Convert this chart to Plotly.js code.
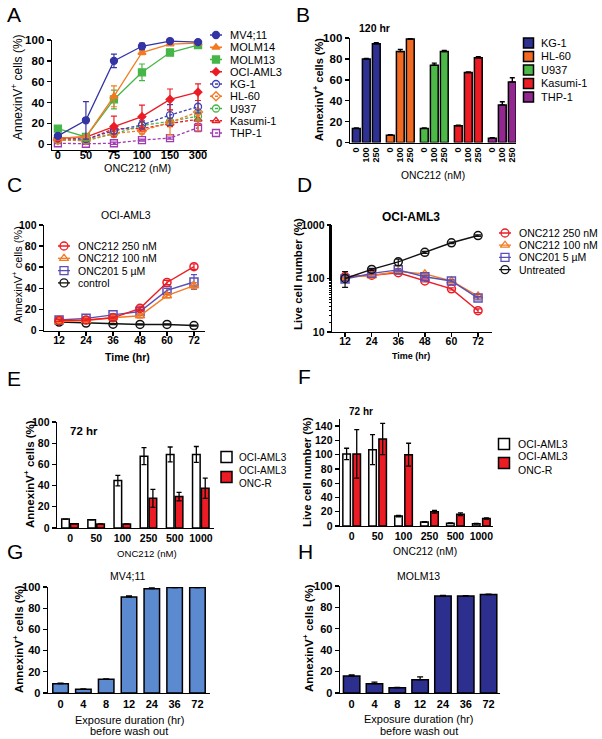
<!DOCTYPE html>
<html><head><meta charset="utf-8">
<script src="https://cdn.plot.ly/plotly-3.0.1.min.js"></script>
<style>html,body{margin:0;padding:0;background:#fff}#chart{width:602px;height:739px}</style>
</head><body><div id="chart"></div>
<script>
// ================= DATA =================
// Panel A: AnnexinV+ cells (%) vs ONC212 (nM)
const aDoses = ['0','50','75','100','150','300'];
const aLines = ['MV4;11','MOLM14','MOLM13','OCI-AML3','KG-1','HL-60','U937','Kasumi-1','THP-1'];
const aMV411    = [8, 23, 80, 94, 99, 98];
const aMV411Err = [1, 18, 6.5, 3, 1, 1];
const aMOLM14    = [6, 7, 46, 88, 96, 97];
const aMOLM14Err = [1, 2, 10, 2, 1, 1];
const aMOLM13    = [15, 7, 43, 69, 88, 95];
const aMOLM13Err = [1, 2, 9, 8, 3, 1.5];
const aOCIAML3    = [6, 7, 17, 26.5, 43, 50];
const aOCIAML3Err = [2, 2, 10, 11, 10, 8];
const aKG1    = [6, 5, 13, 18.5, 28, 36];
const aKG1Err = [1, 1, 3, 4, 10, 6];
const aHL60    = [4, 4, 10.5, 13, 21, 31];
const aHL60Err = [1, 1, 2, 3, 12, 18];
const aU937    = [4, 3.5, 10, 18, 22, 27];
const aU937Err = [1, 1, 2, 3, 3, 4];
const aKasumi1    = [5, 4, 15, 15, 20, 24];
const aKasumi1Err = [1, 1, 3, 3, 3, 6];
const aTHP1    = [1, 0.5, 1, 4, 6, 16];
const aTHP1Err = [0.5, 0.5, 1, 1, 1, 4];

// Panel B: 120 hr
const bLines = ['KG-1','HL-60','U937','Kasumi-1','THP-1'];
const bConc = ['0','100','250'];
const bKG1 = [13.5, 80, 94.5],     bKG1Err = [0.5, 0.5, 1];
const bHL60 = [7, 87, 99],         bHL60Err = [0.5, 2, 0.5];
const bU937 = [13.5, 74, 87],      bU937Err = [0.5, 2, 1];
const bKasumi1 = [16, 67, 81],     bKasumi1Err = [0.5, 0.5, 1];
const bTHP1 = [4, 36, 58],         bTHP1Err = [0.5, 3, 4];

// Panel C: OCI-AML3 AnnexinV+ over time
const cTime = [12, 24, 36, 48, 60, 72];
const cNames = ['ONC212 250 nM','ONC212 100 nM','ONC201 5 \u00b5M','control'];
const c250 = [9.5, 10, 12, 21, 45.5, 60.5],  c250Err = [1, 1, 1, 2, 2, 2.5];
const c100 = [8.5, 9.5, 12, 14, 33, 42.5],   c100Err = [1, 1, 1, 2, 2, 3];
const c201 = [10, 11.5, 14.8, 18, 38, 46],   c201Err = [1, 1, 1, 2, 2, 7];
const cCtrl = [8, 7, 6, 5.7, 5.7, 4.7],      cCtrlErr = [0.5, 0.5, 0.5, 0.5, 0.5, 0.5];

// Panel D: OCI-AML3 live cell number (%), log scale
const dTime = [12, 24, 36, 48, 60, 72];
const dNames = ['ONC212 250 nM','ONC212 100 nM','ONC201 5 \u00b5M','Untreated'];
const d250 = [108, 115, 128, 90, 64, 25],    d250Err = [10, 5, 8, 4, 3, 2];
const d100 = [105, 113, 135, 122, 90, 47],   d100Err = [8, 5, 8, 5, 4, 3];
const d201 = [98, 125, 145, 108, 90, 43],    d201Err = [8, 5, 8, 6, 4, 3];
const dUntr = [100, 148, 205, 308, 465, 635];
const dUntrErrPlus  = [34, 6, 25, 12, 15, 20];
const dUntrErrMinus = [32, 6, 30, 12, 15, 20];

// Panel E: 72 hr AnnexinV+
const eDoses = ['0','50','100','250','500','1000'];
const eNames = ['OCI-AML3','OCI-AML3<br>ONC-R'];
const eParental = [8.4, 7.8, 44.7, 67.8, 69.4, 69.4], eParentalErr = [0, 0, 5, 8, 7, 7.5];
const eResistant = [4, 3.8, 3.8, 28, 29.7, 37.5],     eResistantErr = [0, 0, 0, 8.5, 4, 9.5];
const eSig = ['', '', '***', '**', '**', '**'];

// Panel F: 72 hr live cell number
const fDoses = ['0','50','100','250','500','1000'];
const fParental = [101, 107, 14, 5.7, 4, 3.3],       fParentalErr = [8, 21, 1, 0.5, 0.5, 0.5];
const fResistant = [101, 122, 100, 20, 16.5, 10.5],  fResistantErr = [34, 22, 16, 2, 2, 1];
const fSig = ['', '', '***', '***', '**', '***'];

// Panels G/H: exposure duration before wash out
const gHours = ['0','4','8','12','24','36','72'];
const gMV411 = [8.8, 3.5, 13, 90.6, 98.4, 99.5, 99.5], gMV411Err = [0.5, 0.3, 0.3, 1, 0.7, 0.3, 0.3];
const hMOLM13 = [15.9, 8.7, 5, 12.5, 90.7, 90.7, 92], hMOLM13Err = [1, 1.5, 0.3, 2.5, 0.5, 0.3, 0.5];

// ================= HELPERS =================
const F = '"Liberation Sans", Arial, Helvetica, sans-serif';
const W = 602, H = 739;
const X = p => p / W;
const Y = p => 1 - p / H;
const xdom = (a, b) => [a / W, b / W];
const ydom = (t, b) => [1 - b / H, 1 - t / H];
function axis(extra) {
  return Object.assign({showline:true, linecolor:'#000', linewidth:1.4, ticks:'outside', ticklen:4,
    tickwidth:1.4, tickcolor:'#000', showgrid:false, zeroline:false, fixedrange:true,
    tickfont:{family:F, size:10.5, color:'#000', weight:'bold'}}, extra);
}
const hiddenAxis = {visible:false, showticklabels:false, ticks:'', showgrid:false, zeroline:false, showline:false, fixedrange:true};
const traces = [];
const annotations = [];
const layout = {width:W, height:H, margin:{l:0,r:0,t:0,b:0}, paper_bgcolor:'#fff', plot_bgcolor:'rgba(0,0,0,0)',
  showlegend:false, barmode:'overlay', font:{family:F, color:'#000'}};
function txt(x, y, text, size, opts) {
  annotations.push(Object.assign({xref:'paper', yref:'paper', x:X(x), y:Y(y), text:text, showarrow:false,
    xanchor:'center', yanchor:'middle', font:{family:F, size:size, color:'#000'}}, opts || {}));
}
function addLegend(id, names, styles, kind, g) {
  const n = names.length;
  layout['xaxis' + id] = Object.assign({domain:xdom(g.x0, g.x1), range:[0, 1], anchor:'y' + id}, hiddenAxis);
  layout['yaxis' + id] = Object.assign({domain:ydom(g.y0 - g.dy / 2, g.y0 + (n - 0.5) * g.dy), range:[n - 0.5, -0.5],
    anchor:'x' + id}, hiddenAxis);
  names.forEach((nm, i) => {
    const s = styles[i];
    if (kind === 'line') {
      traces.push({type:'scatter', mode:'lines', x:[0, 1], y:[i, i], xaxis:'x' + id, yaxis:'y' + id,
        line:{color:s.c, width:1.3, dash:s.dash || 'solid'}, hoverinfo:'skip', cliponaxis:false});
      traces.push({type:'scatter', mode:'markers', x:[0.5], y:[i], xaxis:'x' + id, yaxis:'y' + id,
        marker:{symbol:s.sym, size:s.size || 7, color:s.c, line:{color:s.c, width:1.3}}, hoverinfo:'skip', cliponaxis:false});
    } else {
      traces.push({type:'scatter', mode:'markers', x:[0.5], y:[i], xaxis:'x' + id, yaxis:'y' + id,
        marker:{symbol:'square', size:g.size || 10, color:s.c, line:{color:'#000', width:1.5}}, hoverinfo:'skip', cliponaxis:false});
    }
    annotations.push({xref:'paper', x:X(g.tx), xanchor:'left', align:'left', yref:'y' + id, y:i, yanchor:'middle', text:nm,
      showarrow:false, font:{family:F, size:g.fs, color:'#000'}});
  });
}

// ================= PANEL A =================
const aSeries = [aMV411, aMOLM14, aMOLM13, aOCIAML3, aKG1, aHL60, aU937, aKasumi1, aTHP1];
const aErrs = [aMV411Err, aMOLM14Err, aMOLM13Err, aOCIAML3Err, aKG1Err, aHL60Err, aU937Err, aKasumi1Err, aTHP1Err];
const aStyle = [
  {c:'#3434a4', sym:'circle', dash:'solid', size:7},
  {c:'#f47a22', sym:'triangle-up', dash:'solid', size:7},
  {c:'#46b649', sym:'square', dash:'solid', size:7},
  {c:'#ec1c24', sym:'diamond', dash:'solid', size:6},
  {c:'#4040b4', sym:'circle-open', dash:'3px,2px', size:7},
  {c:'#f47a22', sym:'diamond-open', dash:'3px,2px', size:7},
  {c:'#46b649', sym:'circle-open', dash:'3px,2px', size:7},
  {c:'#ec1c24', sym:'triangle-up-open', dash:'3px,2px', size:7},
  {c:'#a03cb0', sym:'square-open', dash:'3px,2px', size:7}
];
for (let i = aSeries.length - 1; i >= 0; i--) {
  const s = aStyle[i];
  traces.push({type:'scatter', mode:'lines+markers', name:aLines[i], x:aDoses, y:aSeries[i], xaxis:'x', yaxis:'y',
    line:{color:s.c, width:1.3, dash:s.dash}, marker:{symbol:s.sym, size:s.size, color:s.c, line:{color:s.c, width:1.3}},
    error_y:{type:'data', array:aErrs[i], color:s.c, thickness:1.2, width:3}, cliponaxis:false});
}
layout.xaxis = axis({domain:xdom(52, 207), anchor:'y', type:'category', range:[-0.21, 5.32], ticklen:2, ticklabelstandoff:-7,
  tickfont:{family:F, size:11, color:'#000', weight:'bold'}});
layout.yaxis = axis({domain:ydom(40, 149.5), anchor:'x', range:[-5, 100], tickvals:[0, 20, 40, 60, 80, 100],
  tickfont:{family:F, size:11.5, color:'#000', weight:'bold'}});
addLegend(9, aLines, aStyle, 'line', {x0:210, x1:222, y0:35, dy:12.25, tx:228, fs:11});

// ================= PANEL B =================
const bSeries = [bKG1, bHL60, bU937, bKasumi1, bTHP1];
const bErrs = [bKG1Err, bHL60Err, bU937Err, bKasumi1Err, bTHP1Err];
const bColors = [{c:'#2e3192'}, {c:'#f26a21'}, {c:'#4cb848'}, {c:'#ed1c24'}, {c:'#92278f'}];
const bStride = 3.4;
const bTickVals = [], bTickText = [];
bSeries.forEach((vals, g) => {
  const xs = bConc.map((c, j) => g * bStride + j);
  xs.forEach((x, j) => { bTickVals.push(x); bTickText.push(bConc[j]); });
  traces.push({type:'bar', name:bLines[g], x:xs, y:vals, xaxis:'x2', yaxis:'y2', width:0.78, offset:-0.39,
    marker:{color:bColors[g].c, line:{color:'#000', width:1.5}},
    error_y:{type:'data', symmetric:false, array:bErrs[g], arrayminus:vals.map(() => 0), color:'#000', thickness:1.4, width:2.5}});
});
layout.xaxis2 = axis({domain:xdom(350, 516), anchor:'y2', range:[-0.63, 15.97], tickvals:bTickVals, ticktext:bTickText,
  tickangle:-90, ticks:'', tickfont:{family:F, size:9, color:'#000', weight:'bold'}});
layout.yaxis2 = axis({domain:ydom(38, 142.5), anchor:'x2', range:[0, 100], tickvals:[0, 20, 40, 60, 80, 100],
  tickfont:{family:F, size:11.5, color:'#000', weight:'bold'}});
addLegend(10, bLines, bColors, 'box', {x0:522, x1:535, y0:43, dy:13.5, tx:539, fs:11, size:10});

// ================= PANEL C =================
const cSeries = [c250, c100, c201, cCtrl];
const cErrs = [c250Err, c100Err, c201Err, cCtrlErr];
const cStyle = [
  {c:'#ec1c24', sym:'circle-open', size:8},
  {c:'#f47a22', sym:'triangle-up-open', size:8},
  {c:'#5b4fb5', sym:'square-open', size:8},
  {c:'#111111', sym:'circle-open', size:8}
];
for (let i = cSeries.length - 1; i >= 0; i--) {
  const s = cStyle[i];
  traces.push({type:'scatter', mode:'lines+markers', name:cNames[i], x:cTime, y:cSeries[i], xaxis:'x3', yaxis:'y3',
    line:{color:s.c, width:1.4}, marker:{symbol:s.sym, size:s.size, color:s.c, line:{color:s.c, width:1.5}},
    error_y:{type:'data', array:cErrs[i], color:s.c, thickness:1.2, width:3}, cliponaxis:false});
}
layout.xaxis3 = axis({domain:xdom(44, 205), anchor:'y3', range:[5.3, 76.9], tickvals:cTime, ticklabelstandoff:-5});
layout.yaxis3 = axis({domain:ydom(225, 331), anchor:'x3', range:[-0.5, 100], tickvals:[0, 20, 40, 60, 80, 100]});
addLegend(11, cNames, cStyle, 'line', {x0:58, x1:70, y0:246, dy:12.3, tx:76, fs:10.5});

// ================= PANEL D =================
const dSeries = [d250, d100, d201, dUntr];
const dErrs = [d250Err, d100Err, d201Err, dUntrErrPlus];
const dErrsMinus = [d250Err, d100Err, d201Err, dUntrErrMinus];
const dStyle = [
  {c:'#ec1c24', sym:'circle-open', size:8},
  {c:'#f47a22', sym:'triangle-up-open', size:8},
  {c:'#5b4fb5', sym:'square-open', size:8},
  {c:'#111111', sym:'circle-open', size:8}
];
for (let i = 0; i < dSeries.length; i++) {
  const s = dStyle[i];
  traces.push({type:'scatter', mode:'lines+markers', name:dNames[i], x:dTime, y:dSeries[i], xaxis:'x4', yaxis:'y4',
    line:{color:s.c, width:1.4}, marker:{symbol:s.sym, size:s.size, color:s.c, line:{color:s.c, width:1.5}},
    error_y:{type:'data', symmetric:false, array:dErrs[i], arrayminus:dErrsMinus[i], color:s.c, thickness:1.2, width:3}, cliponaxis:false});
}
layout.xaxis4 = axis({domain:xdom(332, 492), anchor:'y4', range:[6.1, 78.3], tickvals:dTime, ticklabelstandoff:-5});
layout.yaxis4 = axis({domain:ydom(225, 332), anchor:'x4', type:'log', range:[1, 3], tickvals:[10, 100, 1000],
  ticktext:['10', '100', '1000'], minor:{ticks:'outside', ticklen:2, tickwidth:1, tickcolor:'#000'}});
addLegend(12, dNames, dStyle, 'line', {x0:499, x1:511, y0:233, dy:12.2, tx:517, fs:10.5});

// ================= PANEL E =================
traces.push({type:'bar', name:'OCI-AML3', x:eDoses, y:eParental, xaxis:'x5', yaxis:'y5', width:0.29, offset:-0.32,
  marker:{color:'#ffffff', line:{color:'#000', width:1.5}},
  error_y:{type:'data', array:eParentalErr, color:'#000', thickness:1.3, width:2.5}});
traces.push({type:'bar', name:'OCI-AML3 ONC-R', x:eDoses, y:eResistant, xaxis:'x5', yaxis:'y5', width:0.29, offset:0.02,
  marker:{color:'#ed1c24', line:{color:'#000', width:1.5}},
  error_y:{type:'data', array:eResistantErr, color:'#000', thickness:1.3, width:2.5}});
eDoses.forEach((d, i) => {
  if (!eSig[i]) return;
  annotations.push({xref:'x5', yref:'y5', x:d, y:Math.max(eParental[i] + eParentalErr[i], eResistant[i] + eResistantErr[i]),
    yanchor:'bottom', text:eSig[i], showarrow:false, font:{family:F, size:9, color:'#333'}});
});
layout.xaxis5 = axis({domain:xdom(57, 214), anchor:'y5', type:'category', range:[-0.5, 5.5], ticks:''});
layout.yaxis5 = axis({domain:ydom(422, 528), anchor:'x5', range:[0, 100], tickvals:[0, 20, 40, 60, 80, 100]});
addLegend(13, eNames, [{c:'#ffffff'}, {c:'#ed1c24'}], 'box', {x0:220, x1:233, y0:457, dy:20, tx:237, fs:10, size:11});

// ================= PANEL F =================
traces.push({type:'bar', name:'OCI-AML3', x:fDoses, y:fParental, xaxis:'x6', yaxis:'y6', width:0.29, offset:-0.34,
  marker:{color:'#ffffff', line:{color:'#000', width:1.5}},
  error_y:{type:'data', array:fParentalErr, color:'#000', thickness:1.3, width:2.5}});
traces.push({type:'bar', name:'OCI-AML3 ONC-R', x:fDoses, y:fResistant, xaxis:'x6', yaxis:'y6', width:0.29, offset:0.05,
  marker:{color:'#ed1c24', line:{color:'#000', width:1.5}},
  error_y:{type:'data', array:fResistantErr, color:'#000', thickness:1.3, width:2.5}});
fDoses.forEach((d, i) => {
  if (!fSig[i]) return;
  annotations.push({xref:'x6', yref:'y6', x:d, y:Math.max(fParental[i] + fParentalErr[i], fResistant[i] + fResistantErr[i]),
    yanchor:'bottom', text:fSig[i], showarrow:false, font:{family:F, size:9, color:'#333'}});
});
layout.xaxis6 = axis({domain:xdom(340, 493), anchor:'y6', type:'category', range:[-0.45, 5.45], ticks:''});
layout.yaxis6 = axis({domain:ydom(419, 526), anchor:'x6', range:[0, 150], tickvals:[0, 20, 40, 60, 80, 100, 120, 140]});
addLegend(14, eNames, [{c:'#ffffff'}, {c:'#ed1c24'}], 'box', {x0:498, x1:510, y0:444, dy:19, tx:516, fs:10.5, size:11});

// ================= PANEL G =================
traces.push({type:'bar', name:'MV4;11', x:gHours, y:gMV411, xaxis:'x7', yaxis:'y7', width:0.68, offset:-0.34,
  marker:{color:'#5b8ad0', line:{color:'#000', width:1.5}},
  error_y:{type:'data', symmetric:false, array:gMV411Err, arrayminus:gMV411Err.map(() => 0), color:'#000', thickness:1.3, width:3}});
layout.xaxis7 = axis({domain:xdom(48, 210), anchor:'y7', type:'category', range:[-0.55, 6.55], ticks:'',
  tickfont:{family:F, size:11, color:'#000', weight:'bold'}});
layout.yaxis7 = axis({domain:ydom(587, 693), anchor:'x7', range:[0, 100], tickvals:[0, 20, 40, 60, 80, 100],
  tickfont:{family:F, size:11, color:'#000', weight:'bold'}});

// ================= PANEL H =================
traces.push({type:'bar', name:'MOLM13', x:gHours, y:hMOLM13, xaxis:'x8', yaxis:'y8', width:0.72, offset:-0.36,
  marker:{color:'#2d2f8e', line:{color:'#000', width:1.5}},
  error_y:{type:'data', symmetric:false, array:hMOLM13Err, arrayminus:hMOLM13Err.map(() => 0), color:'#000', thickness:1.3, width:3}});
layout.xaxis8 = axis({domain:xdom(340, 500), anchor:'y8', type:'category', range:[-0.51, 6.5], ticks:'',
  tickfont:{family:F, size:11, color:'#000', weight:'bold'}});
layout.yaxis8 = axis({domain:ydom(586, 693), anchor:'x8', range:[0, 100], tickvals:[0, 20, 40, 60, 80, 100],
  tickfont:{family:F, size:11, color:'#000', weight:'bold'}});

// ================= TEXT =================
// panel letters
[['A',5,14.5],['B',294,14.5],['C',5,184.5],['D',295,184.5],['E',5,378],['F',296,376.5],['G',5,551.5],['H',296,551.5]]
  .forEach(l => txt(l[1], l[2], l[0], 21, {xanchor:'left'}));
// y-axis titles
const annexin = 'AnnexinV<sup>+</sup> cells (%)';
const live = 'Live cell number (%)';
txt(17, 87, annexin, 12, {textangle:-90});
txt(318, 90, annexin, 11, {textangle:-90, font:{family:F, size:11, color:'#000', weight:'bold'}});
txt(17, 275, annexin, 11, {textangle:-90});
txt(298, 274, live, 11.5, {textangle:-90, font:{family:F, size:11.5, color:'#000', weight:'bold'}});
txt(29, 474, annexin, 11.5, {textangle:-90, font:{family:F, size:11.5, color:'#000', weight:'bold'}});
txt(307, 472, live, 11.3, {textangle:-90, font:{family:F, size:11.3, color:'#000', weight:'bold'}});
txt(18, 639, annexin, 11.5, {textangle:-90, font:{family:F, size:11.5, color:'#000', weight:'bold'}});
txt(308, 638, annexin, 11.5, {textangle:-90, font:{family:F, size:11.5, color:'#000', weight:'bold'}});
// panel titles
txt(374, 28, '120 hr', 10.5, {font:{family:F, size:10.5, color:'#000', weight:'bold'}});
txt(126, 215, 'OCI-AML3', 10.5);
txt(411, 217, 'OCI-AML3', 12, {font:{family:F, size:12, color:'#000', weight:'bold'}});
txt(68, 431, '72 hr', 11.5, {xanchor:'left', font:{family:F, size:11.5, color:'#000', weight:'bold'}});
txt(361, 411, '72 hr', 10, {font:{family:F, size:10, color:'#000', weight:'bold'}});
txt(128, 576, 'MV4;11', 10.5);
txt(419, 576, 'MOLM13', 10.5);
// x-axis titles
txt(137, 168, 'ONC212 (nM)', 10.8);
txt(433, 175, 'ONC212 (nM)', 10.3);
txt(127, 357, 'Time (hr)', 10.5, {font:{family:F, size:10.5, color:'#000', weight:'bold'}});
txt(411, 356, 'Time (hr)', 9, {font:{family:F, size:9, color:'#000', weight:'bold'}});
txt(147, 553, 'ONC212 (nM)', 9.6);
txt(425, 551, 'ONC212 (nM)', 10.3);
txt(129, 720, 'Exposure duration (hr)', 11);
txt(129, 731, 'before wash out', 11);
txt(419, 719, 'Exposure duration (hr)', 11);
txt(419, 731, 'before wash out', 11);

layout.annotations = annotations;
Plotly.newPlot('chart', traces, layout, {displayModeBar:false, staticPlot:true});
</script>
</body></html>
